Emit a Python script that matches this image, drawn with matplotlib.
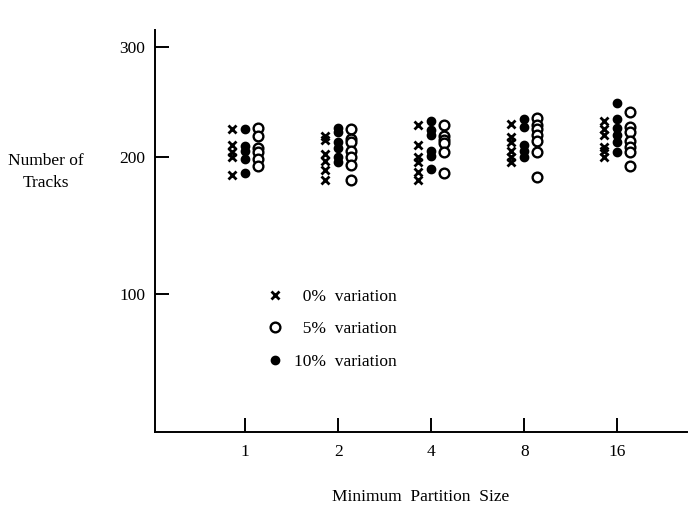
import numpy as np
import matplotlib
matplotlib.use("Agg")
import matplotlib.pyplot as plt
from matplotlib.lines import Line2D

plt.rcParams['font.family'] = ['Liberation Serif', 'DejaVu Serif']

categories = ['1', '2', '4', '8', '16']
y_ticks = [100, 200, 300]
y_tick_labels = ['100', '200', '300']

# Number of tracks per minimum partition size, per variation level
var0 = [[225, 211, 204, 200, 187],
        [219, 215, 202, 197, 190, 183],
        [229, 211, 200, 196, 189, 183],
        [230, 218, 213, 205, 200, 196],
        [232, 225, 220, 209, 205, 200]]
var5 = [[226, 219, 208, 204, 198, 193],
        [225, 216, 213, 205, 200, 194, 183],
        [229, 219, 215, 212, 204, 188],
        [235, 229, 225, 220, 214, 204, 185],
        [241, 227, 222, 214, 209, 204, 193]]
var10 = [[225, 210, 205, 198, 188],
         [226, 222, 213, 208, 200, 196],
         [232, 224, 220, 205, 201, 191],
         [234, 227, 211, 205, 200],
         [249, 234, 226, 220, 213, 204]]

labels = ['0% variation', '5% variation', '10% variation']


def fwd(v):
    v = np.asarray(v, dtype=float)
    return np.where(v <= 200, v, 200 + (v - 200) * 0.8)


def inv(f):
    f = np.asarray(f, dtype=float)
    return np.where(f <= 200, f, 200 + (f - 200) / 0.8)


FS = 12.5
fig = plt.figure(figsize=(6.93, 5.08), dpi=100)
ax = fig.add_axes([155 / 693, 76 / 508, 532 / 693, 402 / 508])
ax.set_yscale('function', functions=(fwd, inv))

off = 0.14
for i in range(len(categories)):
    ax.plot([i - off] * len(var0[i]), var0[i], linestyle='none', marker='x',
            ms=6, mew=2.0, color='black')
    ax.plot([i] * len(var10[i]), var10[i], linestyle='none', marker='o',
            ms=6, color='black')
    ax.plot([i + off] * len(var5[i]), var5[i], linestyle='none', marker='o',
            ms=7, mfc='white', mec='black', mew=1.7)

ax.set_xlim(-0.97, 4.75)
ax.set_ylim(0, 315)
ax.set_xticks(range(len(categories)))
ax.set_xticklabels(categories, fontsize=FS)
ax.set_yticks(y_ticks)
ax.set_yticklabels(y_tick_labels, fontsize=FS)
ax.yaxis.set_minor_locator(matplotlib.ticker.NullLocator())
ax.tick_params(axis='both', direction='in', length=10, width=1.4)
ax.tick_params(axis='x', pad=9)
ax.tick_params(axis='y', pad=7)
for s in ['top', 'right']:
    ax.spines[s].set_visible(False)
for s in ['left', 'bottom']:
    ax.spines[s].set_linewidth(1.4)

handles = [
    Line2D([], [], linestyle='none', marker='x', ms=6, mew=2.0, color='black'),
    Line2D([], [], linestyle='none', marker='o', ms=7, mfc='white', mec='black', mew=1.7),
    Line2D([], [], linestyle='none', marker='o', ms=6, color='black'),
]
leg_labels = ['\u2007' + labels[0].replace(' ', '  '),
              '\u2007' + labels[1].replace(' ', '  '),
              labels[2].replace(' ', '  ')]
ax.legend(handles, leg_labels, loc='upper left', bbox_to_anchor=(0.21, 0.357),
          frameon=False, fontsize=FS, handlelength=1.0, handletextpad=0.6,
          labelspacing=0.95, borderpad=0, borderaxespad=0)

fig.text(46 / 693, 1 - 172 / 508, 'Number of\nTracks', ha='center', va='center',
         multialignment='center', fontsize=FS, linespacing=1.5)
fig.text(421 / 693, 1 - 497 / 508, 'Minimum  Partition  Size', ha='center',
         va='center', fontsize=FS)

fig.savefig('out.png', dpi=100)
